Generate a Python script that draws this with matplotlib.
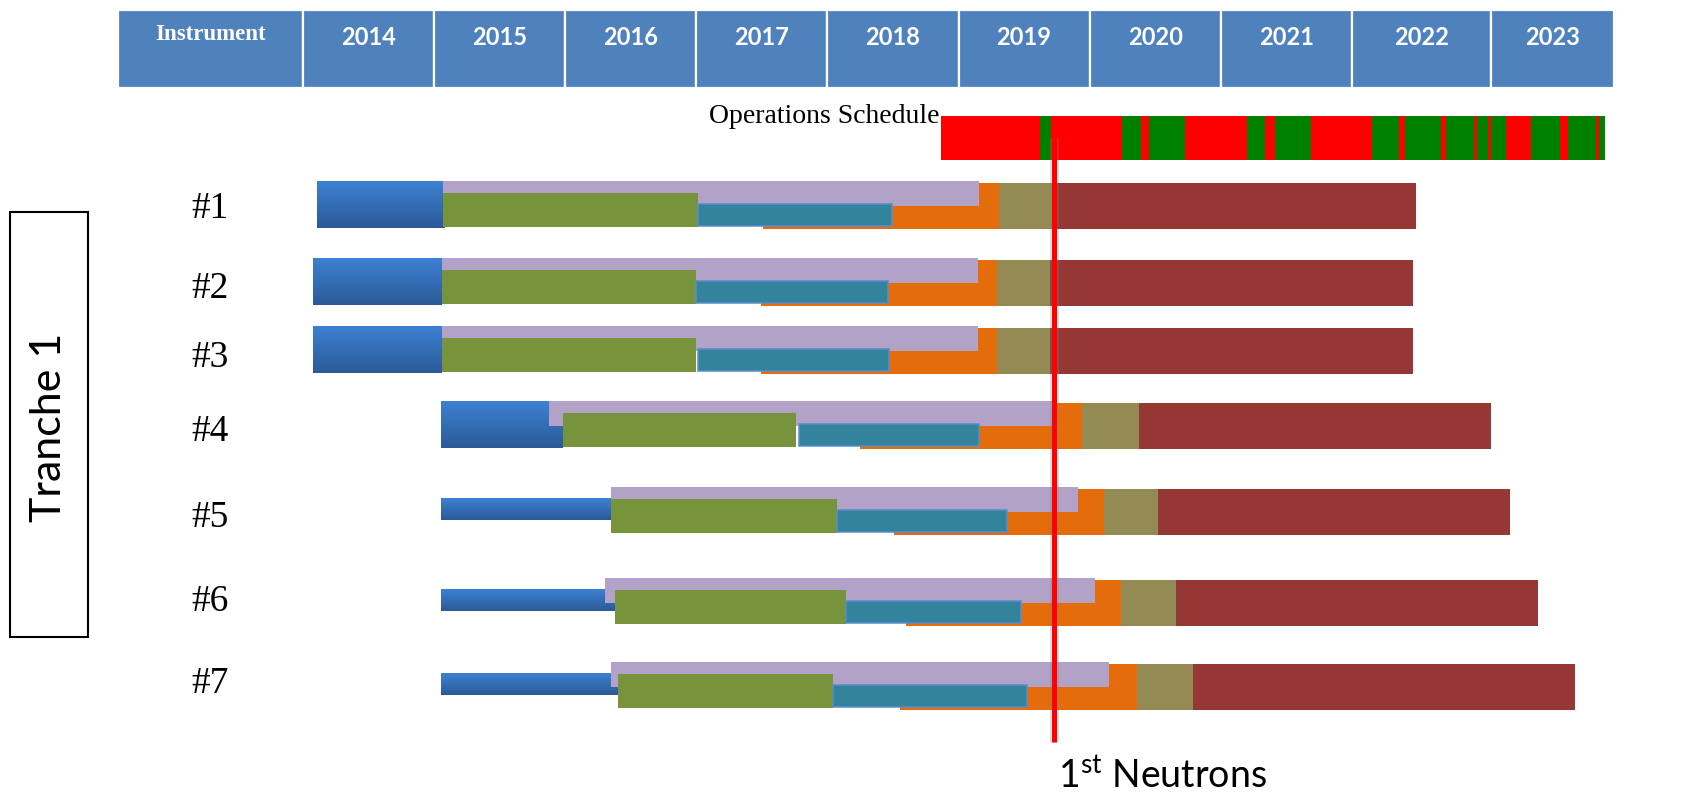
import numpy as np
import matplotlib.pyplot as plt
from matplotlib.patches import Rectangle
from matplotlib.colors import LinearSegmentedColormap

plt.rcParams["mathtext.fontset"] = "custom"
plt.rcParams["mathtext.rm"] = "Lato"
plt.rcParams["mathtext.it"] = "Lato:italic"
plt.rcParams["mathtext.bf"] = "Lato:bold"

# ---- data (decimal years) -------------------------------------------------
YEARS = [2014, 2015, 2016, 2017, 2018, 2019, 2020, 2021, 2022, 2023]
YEAR_EDGES = [2014, 2015, 2016, 2017, 2018, 2019, 2020, 2021, 2022, 2023.06, 2024.0]
INSTRUMENT_CELL = (2012.59, 2014.0)

INSTRUMENTS = ["#1", "#2", "#3", "#4", "#5", "#6", "#7"]

BLUE_START = [2014.11, 2014.08, 2014.08, 2015.05, 2015.05, 2015.05, 2015.05]
BLUE_END = [2015.08, 2015.06, 2015.06, 2015.98, 2016.35, 2016.38, 2016.40]
LAV_START = [2015.07, 2015.06, 2015.06, 2015.88, 2016.35, 2016.30, 2016.35]
LAV_END = [2019.16, 2019.15, 2019.15, 2019.71, 2019.91, 2020.04, 2020.15]
GREEN_START = [2015.07, 2015.06, 2015.06, 2015.98, 2016.35, 2016.38, 2016.40]
GREEN_END = [2017.01, 2017.00, 2017.00, 2017.76, 2018.07, 2018.14, 2018.04]
TEAL_START = [2017.01, 2017.00, 2017.01, 2017.78, 2018.07, 2018.14, 2018.04]
TEAL_END = [2018.49, 2018.46, 2018.47, 2019.16, 2019.37, 2019.48, 2019.52]
ORANGE_START = [2017.51, 2017.49, 2017.49, 2018.25, 2018.51, 2018.60, 2018.55]
ORANGE_END = [2019.31, 2019.29, 2019.29, 2019.94, 2020.11, 2020.24, 2020.36]
OLIVE_END = [2019.71, 2019.70, 2019.70, 2020.38, 2020.52, 2020.66, 2020.79]
DARKRED_END = [2022.49, 2022.47, 2022.47, 2023.06, 2023.21, 2023.42, 2023.70]

# operations schedule: alternating off (red) / on (green) blocks
OPS_EDGES = [2018.867, 2019.622, 2019.706, 2020.247, 2020.394, 2020.453, 2020.730,
             2021.201, 2021.339, 2021.416, 2021.689, 2022.152, 2022.360, 2022.408,
             2022.680, 2022.716, 2022.932, 2022.957, 2023.039, 2023.064, 2023.174,
             2023.367, 2023.588, 2023.647, 2023.863, 2023.888, 2023.929]

FIRST_NEUTRONS = 2019.73

# ---- layout (pixels from the top of the picture) ----------------------------
W, H = 1708, 795
X0_PX, PX_PER_YEAR = 303, 131.1
ROW_TOP = [181, 258, 326, 401, 487, 578, 662]
LABEL_Y = [209, 289, 358, 432, 518, 602, 684]
THICK_BLUE = [True, True, True, True, False, False, False]

C_HEAD = "#4F81BD"
C_LAV = "#B3A2C7"
C_GREEN = "#77933C"
C_TEAL = "#31849B"
C_ORANGE = "#E46C0A"
C_OLIVE = "#948A54"
C_DARKRED = "#953735"

fig = plt.figure(figsize=(W / 100, H / 100), dpi=100)
ax = fig.add_axes([0, 0, 1, 1])
lay = fig.add_axes([0, 0, 1, 1], zorder=5)
lay.set_xlim(0, W)
lay.set_ylim(H, 0)
lay.axis("off")
lay.patch.set_alpha(0)


def hbar(starts, ends, top, bot, color, z, **kw):
    ax.barh([(top + bot) / 2], [ends - starts], left=[starts], height=bot - top,
            color=color, zorder=z, linewidth=0, **kw)


# header
ax.barh([49], [INSTRUMENT_CELL[1] - INSTRUMENT_CELL[0]], left=[INSTRUMENT_CELL[0]],
        height=78, color=C_HEAD, edgecolor="white", linewidth=1.6, zorder=1)
ax.barh([49] * len(YEARS), np.diff(YEAR_EDGES), left=YEAR_EDGES[:-1], height=78,
        color=C_HEAD, edgecolor="white", linewidth=1.6, zorder=1)
ax.text(sum(INSTRUMENT_CELL) / 2, 35, "Instrument", ha="center", va="center",
        color="white", fontsize=16.5, fontweight="bold", family="Liberation Serif", zorder=2)
for i, yr in enumerate(YEARS):
    ax.text((YEAR_EDGES[i] + YEAR_EDGES[i + 1]) / 2, 37.5, str(yr), ha="center", va="center",
            color="white", fontsize=17, fontweight="bold", family="Lato", zorder=2)

# operations schedule
ops_colors = ["#FF0000" if i % 2 == 0 else "#008000" for i in range(len(OPS_EDGES) - 1)]
ax.barh([138] * (len(OPS_EDGES) - 1), np.diff(OPS_EDGES), left=OPS_EDGES[:-1], height=44,
        color=ops_colors, linewidth=0, zorder=2)
ax.text(OPS_EDGES[0] - 0.01, 123, "Operations Schedule", ha="right", va="baseline",
        fontsize=20, family="Liberation Serif", color="black")

# instrument phases
grad = np.linspace(0, 1, 64).reshape(-1, 1)
blue_cmap = LinearSegmentedColormap.from_list("blue_grad", ["#3D81D3", "#2B5A97"])
for i in range(len(INSTRUMENTS)):
    t = ROW_TOP[i]
    hbar(ORANGE_START[i], ORANGE_END[i], t + 2, t + 48, C_ORANGE, 1)
    hbar(ORANGE_END[i], OLIVE_END[i], t + 2, t + 48, C_OLIVE, 1)
    hbar(OLIVE_END[i], DARKRED_END[i], t + 2, t + 48, C_DARKRED, 1)
    b_top, b_bot = (t, t + 47) if THICK_BLUE[i] else (t + 11, t + 33)
    ax.imshow(grad, cmap=blue_cmap, aspect="auto", interpolation="bilinear",
              extent=(BLUE_START[i], BLUE_END[i], b_bot, b_top), zorder=2)
    hbar(LAV_START[i], LAV_END[i], t, t + 25, C_LAV, 3)
    hbar(GREEN_START[i], GREEN_END[i], t + 12, t + 46, C_GREEN, 4)
    ax.barh([t + 34], [TEAL_END[i] - TEAL_START[i]], left=[TEAL_START[i]], height=22,
            color=C_TEAL, edgecolor="#5B8DC9", linewidth=1.1, zorder=5)
    lay.text(210, LABEL_Y[i], INSTRUMENTS[i], ha="center", va="center",
             fontsize=27, family="Liberation Serif", color="black")

# first neutrons marker
ax.vlines(FIRST_NEUTRONS, 137, 742, color="#808080", linewidth=6.5, alpha=0.25, zorder=6)
ax.vlines(FIRST_NEUTRONS, 137, 742, color="#FF0000", linewidth=3.6, zorder=7)

lay.text(1058, 788, r"1$^{\mathrm{st}}$ Neutrons", ha="left", va="baseline",
         fontsize=27, family="Lato")

# tranche box
lay.add_patch(Rectangle((10, 212), 78, 425, fill=False, edgecolor="black", linewidth=1.5))
lay.text(49, 427, "Tranche 1", rotation=90, ha="center", va="center",
         fontsize=31, family="Lato", color="black")

ax.set_xlim(YEAR_EDGES[0] - X0_PX / PX_PER_YEAR, YEAR_EDGES[0] + (W - X0_PX) / PX_PER_YEAR)
ax.set_ylim(H, 0)
ax.axis("off")

fig.savefig("out.png", dpi=100)
